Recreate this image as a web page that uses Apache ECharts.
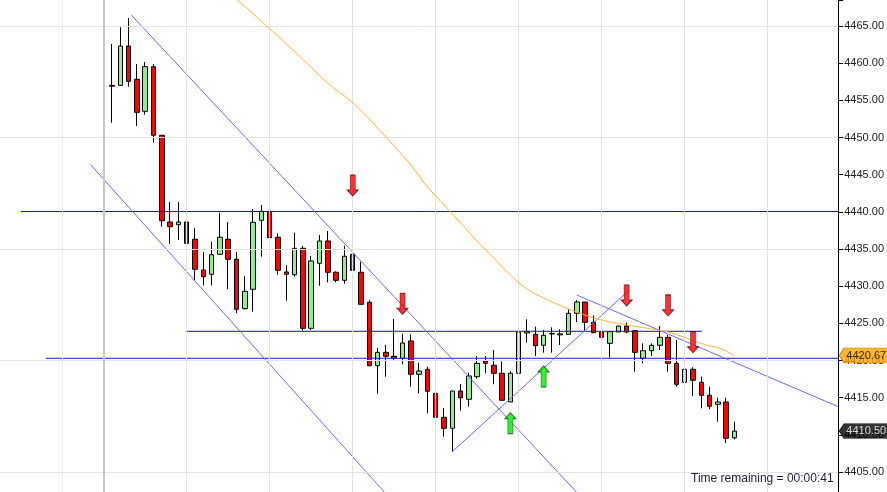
<!DOCTYPE html>
<html><head><meta charset="utf-8">
<script src="https://cdn.jsdelivr.net/npm/echarts@6/dist/echarts.min.js"></script>
<style>html,body{margin:0;padding:0;background:#fff}#c{width:887px;height:492px}</style>
</head><body><div id="c"></div>
<script>
// ---- candle data (index 0..75) ----
const opens  = [4457.0,4457.02,4462.31,4457.83,4453.53,4459.53,4450.3,4438.63,4438.27,4438.63,
  4436.31,4432.18,4431.6,4434.29,4436.31,4433.62,4426.97,4429.58,4438.86,4440.07,
  4436.58,4431.91,4431.54,4435.1,4424.33,4433.08,4436.08,4431.87,4430.79,4434.29,
  4431.87,4427.83,4419.3,4421.1,4420.57,4420.3,4422.63,4418.15,4418.82,4415.59,
  4412.36,4410.88,4415.9,4414.78,4417.82,4419.93,4419.36,4418.28,4414.42,4418.28,
  4423.7,4423.53,4422.05,4423.62,4423.45,4423.53,4426.35,4427.87,4425.14,4423.84,
  4422.31,4423.84,4424.64,4424.01,4420.3,4421.32,4422.05,4423.12,4419.62,4417.07,
  4418.82,4417.07,4415.32,4414.11,4414.42,4409.6];
const closes = [4456.9,4462.31,4457.56,4453.39,4459.53,4450.3,4438.81,4438.0,4438.63,4435.77,
  4432.27,4431.28,4434.24,4436.58,4433.62,4426.89,4429.31,4438.59,4440.07,4436.52,
  4432.14,4431.6,4435.1,4424.33,4433.39,4436.08,4431.87,4430.79,4434.02,4432.14,
  4427.56,4419.3,4421.1,4420.57,4420.3,4422.36,4418.15,4418.59,4415.86,4412.36,
  4410.88,4415.9,4415.0,4417.92,4419.62,4419.62,4418.28,4414.65,4418.28,4423.84,
  4423.9,4421.99,4423.39,4423.58,4423.58,4426.35,4427.87,4425.14,4423.74,4423.12,
  4423.88,4424.64,4423.84,4421.1,4421.32,4422.05,4423.12,4419.62,4416.8,4418.82,
  4417.34,4415.32,4413.84,4414.42,4409.54,4410.5];
const lows   = [4451.99,4457.02,4456.84,4451.55,4453.07,4449.3,4438.0,4435.68,4436.21,4435.04,
  4430.83,4430.12,4430.1,4434.29,4429.58,4426.35,4426.89,4426.57,4433.97,4435.63,
  4431.54,4428.05,4431.28,4424.01,4424.1,4430.07,4430.52,4430.52,4430.33,4432.14,
  4427.56,4419.3,4415.54,4417.82,4419.93,4419.49,4416.48,4415.59,4412.9,4411.1,
  4409.75,4407.73,4413.25,4413.79,4417.55,4418.28,4416.8,4414.65,4414.42,4417.82,
  4422.4,4420.6,4421.05,4421.05,4422.09,4423.53,4425.18,4424.0,4423.74,4422.4,
  4420.38,4423.84,4423.66,4418.5,4419.62,4420.61,4421.41,4418.5,4416.48,4416.03,
  4415.23,4413.57,4413.48,4411.77,4408.9,4409.4];
const highs  = [4462.58,4464.83,4466.08,4459.89,4460.16,4459.89,4450.3,4441.33,4441.33,4440.88,
  4437.83,4434.6,4436.0,4439.89,4438.63,4434.6,4431.37,4440.34,4440.92,4441.86,
  4437.11,4432.81,4437.19,4435.41,4434.06,4436.89,4437.42,4432.0,4435.45,4435.37,
  4433.29,4428.1,4421.72,4422.09,4425.58,4423.61,4423.53,4419.71,4419.17,4418.19,
  4413.61,4415.9,4416.84,4418.36,4420.61,4420.61,4421.41,4419.89,4418.55,4424.1,
  4425.54,4424.55,4424.1,4424.47,4424.2,4426.89,4428.14,4427.87,4426.08,4426.62,
  4423.88,4424.64,4425.09,4424.1,4422.31,4422.31,4424.64,4423.43,4422.76,4418.82,
  4419.09,4417.82,4416.48,4415.0,4415.0,4411.77];
// moving average, candles 15..75
const maStart = 15;
const maVals = [4468.63,4467.65,4466.64,4465.63,4464.63,4463.62,4462.61,4461.57,4460.5,4459.42,
  4458.34,4457.33,4456.39,4455.59,4454.71,4453.63,4452.49,4451.28,4450.07,4448.86,
  4447.58,4446.3,4444.82,4443.34,4442.13,4440.92,4439.71,4438.5,4437.29,4436.01,
  4434.87,4433.79,4432.58,4431.5,4430.43,4429.62,4428.95,4428.41,4427.87,4427.4,
  4426.93,4426.53,4426.12,4425.72,4425.45,4425.18,4424.98,4424.78,4424.58,4424.44,
  4424.24,4424.04,4423.84,4423.5,4423.1,4422.69,4422.29,4421.95,4421.75,4421.28,4420.67];
// signal arrows [candle index, tip price]
const sellSignals = [[29,4442.13],[35,4426.22],[62,4427.33],[67,4426.0],[70,4421.05]];
const buySignals  = [[48,4412.98],[52,4419.26]];
// drawn trend lines [[idx,price],[idx,price]]
const trendLines = [
  [[2.32,4466.48],[55.96,4402.3]],
  [[-2.6,4446.36],[32.8,4402.31]],
  [[41,4407.73],[62.32,4429.49]],
  [[56.0,4428.81],[87.5,4413.79]]
];
// drawn horizontal lines [startIdx, endIdx, price]
const hLines = [[-10.97,87.5,4440.05],[8.86,71.07,4423.93]];
const hLineBlue = [-7.97,87.5,4420.3];
// grid levels / tick info
const gridLevels = [4405,4420,4435,4450,4465];
const vGridIdx = [-1,9,19,29,39,49,59,69,79];
const yMin = 4402.31, yMax = 4468.5;
const timeText = 'Time remaining = 00:00:41';

const PAD_L = 13, PAD_R = 12, N = opens.length;
const categories = [];
for (let k = 0; k < PAD_L + N + PAD_R; k++) categories.push(String(k - PAD_L));
const candleData = [];
for (let k = 0; k < PAD_L; k++) candleData.push('-');
for (let i = 0; i < N; i++) candleData.push([opens[i], closes[i], lows[i], highs[i]]);
for (let k = 0; k < PAD_R; k++) candleData.push('-');
const xvMin = -PAD_L - 0.5, xvMax = N + PAD_R - 0.5;
const maData = maVals.map((v, j) => [maStart + j, v]);

const FONT = '"Liberation Sans", Arial, sans-serif';
const lineSeries = (pts, color, width, z) => ({
  type: 'line', xAxisIndex: 1, data: pts, symbol: 'none', silent: true, z: z,
  lineStyle: { color: color, width: width }, clip: true, animation: false
});

const series = [
  { // background grid
    type: 'line', xAxisIndex: 1, data: [], z: 0, silent: true,
    markLine: {
      silent: true, symbol: 'none', label: { show: false }, animation: false,
      data: [
        ...gridLevels.map(v => ({ yAxis: v, lineStyle: { color: '#e3e3e3', width: 1, type: 'solid' } })),
        ...vGridIdx.map(v => ({ xAxis: v, lineStyle: { color: v === -1 ? '#c9c9c9' : '#e3e3e3', width: v === -1 ? 2 : 1, type: 'solid' } })),
        { xAxis: -6, lineStyle: { color: '#ececec', width: 1, type: 'solid' } }
      ]
    }
  },
  {
    type: 'candlestick', xAxisIndex: 0, data: candleData, barWidth: 5, z: 3,
    itemStyle: { color: '#90ee90', color0: '#ff0000', borderColor: '#000', borderColor0: '#000', borderColorDoji: '#000', borderWidth: 1 }
  },
  ...hLines.map(h => lineSeries([[h[0], h[2]], [h[1], h[2]]], '#1414b8', 1, 4)),
  lineSeries([[hLineBlue[0], hLineBlue[2]], [hLineBlue[1], hLineBlue[2]]], '#1a1ae6', 1, 4),
  ...trendLines.map(t => lineSeries(t, '#6a6aff', 1, 4)),
  lineSeries(maData, '#ffb340', 1, 5),
  {
    type: 'scatter', xAxisIndex: 1, data: sellSignals, z: 6, silent: true,
    symbol: 'path://M3,0 L8,0 L8,15 L11,15 L5.5,21 L0,15 L3,15 Z',
    symbolSize: [11, 21], symbolOffset: [0, -10.5],
    itemStyle: { color: '#ff0000', borderColor: '#500000', borderWidth: 0.8 }
  },
  {
    type: 'scatter', xAxisIndex: 1, data: buySignals, z: 6, silent: true,
    symbol: 'path://M5.5,0 L11,6 L8,6 L8,21 L3,21 L3,6 L0,6 Z',
    symbolSize: [11, 21], symbolOffset: [0, 10.5],
    itemStyle: { color: '#00ee00', borderColor: '#004000', borderWidth: 0.8 }
  },
  {
    type: 'scatter', xAxisIndex: 1, z: 10, clip: false, silent: true,
    symbol: 'path://M0,7.5 L5,0 L50,0 L50,15 L5,15 Z',
    symbolSize: [50, 15], symbolOffset: [26, 0],
    data: [
      { value: [xvMax, maVals[maVals.length - 1]], itemStyle: { color: '#ffa500', borderColor: '#a06000', borderWidth: 0.6 },
        label: { show: true, position: 'inside', offset: [2, 0], color: '#000', fontSize: 11, fontFamily: FONT,
                 formatter: p => p.value[1].toFixed(2) } },
      { value: [xvMax, closes[N - 1]], itemStyle: { color: '#000', borderColor: '#000', borderWidth: 0.6 },
        label: { show: true, position: 'inside', offset: [2, 0], color: '#fff', fontSize: 11, fontFamily: FONT,
                 formatter: p => p.value[1].toFixed(2) } }
    ]
  }
];

const chart = echarts.init(document.getElementById('c'), null, { renderer: 'canvas' });
chart.setOption({
  animation: false,
  backgroundColor: '#fff',
  grid: { left: 0, right: 47, top: 0, bottom: 0, containLabel: false },
  xAxis: [
    { type: 'category', data: categories, boundaryGap: true, show: false },
    { type: 'value', min: xvMin, max: xvMax, show: false, axisLine: { onZero: false } }
  ],
  yAxis: {
    type: 'value', position: 'right', min: yMin, max: yMax, splitNumber: 13, scale: true,
    axisLine: { show: true, onZero: false, lineStyle: { color: '#000', width: 1 } },
    axisTick: { show: true, length: 5, inside: false, lineStyle: { color: '#000' } },
    splitLine: { show: false },
    axisLabel: {
      margin: 6, color: '#222', fontSize: 11, fontFamily: FONT,
      formatter: v => Math.abs(v / 5 - Math.round(v / 5)) < 1e-6 ? v.toFixed(2) : ''
    }
  },
  graphic: [{
    type: 'text', left: 691, top: 473, z: 20,
    style: { text: timeText, font: '12px ' + FONT, fill: '#1c1c3c' }
  }],
  series: series
});
</script>
</body></html>
